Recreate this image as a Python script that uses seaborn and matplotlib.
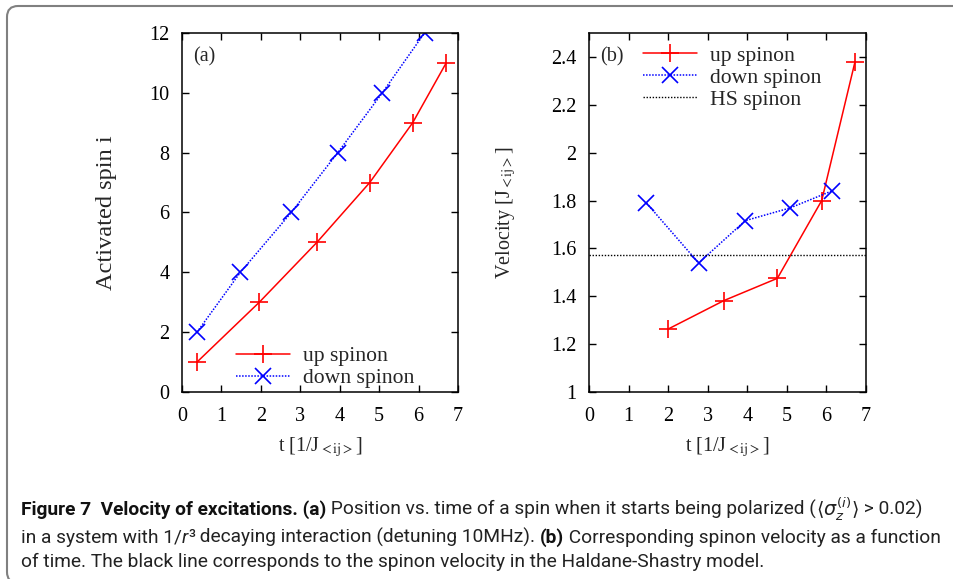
"""Velocity of excitations: spin activation position and spinon velocity vs time."""

import matplotlib.pyplot as plt
import seaborn as sns
from matplotlib.offsetbox import AnchoredOffsetbox, HPacker, TextArea, VPacker
from matplotlib.patches import FancyBboxPatch
from matplotlib.transforms import IdentityTransform

# panel (a): activated spin index vs time
t_up_a = [0.38, 1.96, 3.42, 4.76, 5.85, 6.70]
spin_up = [1, 3, 5, 7, 9, 11]
t_down_a = [0.38, 1.48, 2.77, 3.95, 5.08, 6.15]
spin_down = [2, 4, 6, 8, 10, 12]

# panel (b): spinon velocity vs time
t_up_b = [2.00, 3.41, 4.76, 5.88, 6.72]
vel_up = [1.263, 1.382, 1.475, 1.800, 2.379]
t_down_b = [1.45, 2.77, 3.95, 5.08, 6.15]
vel_down = [1.790, 1.539, 1.716, 1.769, 1.841]
hs_velocity = 1.5708

SERIF = "Liberation Serif"
FS = 14.5
LEG_FS = 15.6
SUB = r"$_{\rm {<}ij{>}}$"

sns.set_theme(style="ticks")
plt.rcParams["font.family"] = [SERIF, "DejaVu Serif"]
plt.rcParams["mathtext.fontset"] = "stix"

fig = plt.figure(figsize=(9.54, 5.79), dpi=100)
ax_a = fig.add_axes([0.1908, 0.3230, 0.2893, 0.6200])
ax_b = fig.add_axes([0.6174, 0.3230, 0.2904, 0.6200])

up_style = dict(color="#ff0000", marker="+", markersize=13, markeredgewidth=1.2,
                markeredgecolor="#ff0000", linewidth=1.1, linestyle="-")
down_style = dict(color="#0000ff", marker="x", markersize=12, markeredgewidth=1.2,
                  markeredgecolor="#0000ff", linewidth=1.1, linestyle=(0, (1, 1)))


def _draw(ax, tu, yu, td, yd):
    sns.lineplot(x=tu, y=yu, ax=ax, estimator=None, sort=False, label="up spinon",
                 **up_style)
    sns.lineplot(x=td, y=yd, ax=ax, estimator=None, sort=False, label="down spinon",
                 **down_style)


_draw(ax_a, t_up_a, spin_up, t_down_a, spin_down)
_draw(ax_b, t_up_b, vel_up, t_down_b, vel_down)
ax_b.axhline(hs_velocity, color="black", linewidth=1.0, linestyle=(0, (1, 1.2)),
             label="HS spinon")

ax_a.set_xlim(0, 7)
ax_a.set_ylim(0, 12)
ax_a.set_yticks(range(0, 13, 2))
ax_b.set_xlim(0, 7)
ax_b.set_ylim(1, 2.5)
ax_b.set_yticks([1, 1.2, 1.4, 1.6, 1.8, 2, 2.2, 2.4])
ax_b.set_yticklabels(["1", "1.2", "1.4", "1.6", "1.8", "2", "2.2", "2.4"])

for ax, tag in ((ax_a, "(a)"), (ax_b, "(b)")):
    ax.set_xticks(range(0, 8))
    ax.tick_params(direction="in", top=True, right=True, length=5, width=1,
                   labelsize=FS, colors="black")
    ax.tick_params(axis="x", pad=11)
    ax.tick_params(axis="y", pad=9)
    for sp in ax.spines.values():
        sp.set_linewidth(1.1)
        sp.set_color("black")
    ax.set_xlabel("t [1/J" + SUB + "]", fontsize=FS)
    ax.xaxis.set_label_coords(0.5, -0.12)
    ax.text(0.04, 0.933, tag, transform=ax.transAxes, fontsize=FS, va="center")

ax_a.set_ylabel("Activated spin i", fontsize=17.6)
ax_a.yaxis.set_label_coords(-0.235, 0.5)
ax_b.set_ylabel("Velocity [J" + SUB + "]", fontsize=FS)
ax_b.yaxis.set_label_coords(-0.255, 0.5)

leg_kw = dict(frameon=False, fontsize=LEG_FS, handlelength=2.5, handletextpad=0.6,
              labelspacing=0.08, borderpad=0, borderaxespad=0, loc="upper left")
ax_a.legend(bbox_to_anchor=(0.195, 0.128), **leg_kw)
ax_b.legend(bbox_to_anchor=(0.195, 0.965), **leg_kw)

# caption below the panels
CAP = ["Roboto", "DejaVu Sans"]
CFS = 13.8
reg = dict(fontsize=CFS, family=CAP, color="#222222")
bold = dict(fontsize=CFS, family=CAP, weight="bold", color="#111111")
math = dict(fontsize=CFS, color="#222222", math_fontfamily="dejavusans")

line1 = HPacker(children=[
    TextArea("Figure 7  Velocity of excitations. (a)", textprops=bold),
    TextArea(" Position vs. time of a spin when it starts being polarized (", textprops=reg),
    TextArea(r"$\langle\sigma_z^{(i)}\rangle$", textprops=math),
    TextArea(" > 0.02)", textprops=reg),
], align="baseline", pad=0, sep=0)
line2 = HPacker(children=[
    TextArea("in a system with 1/", textprops=reg),
    TextArea("r", textprops=dict(reg, style="italic")),
    TextArea("³", textprops=reg),
    TextArea(" decaying interaction (detuning 10MHz). ", textprops=reg),
    TextArea("(b)", textprops=bold),
    TextArea(" Corresponding spinon velocity as a function", textprops=reg),
], align="baseline", pad=0, sep=0)
line3 = TextArea("of time. The black line corresponds to the spinon velocity in the "
                 "Haldane-Shastry model.", textprops=reg)
caption = VPacker(children=[line1, line2, line3], align="left", pad=0, sep=4)
fig.add_artist(AnchoredOffsetbox(loc="upper left", child=caption, pad=0, borderpad=0,
                                 frameon=False, bbox_to_anchor=(21 / 954, 1 - 495 / 579),
                                 bbox_transform=fig.transFigure))

# rounded frame around the figure
fig.patches.append(FancyBboxPatch((7, -4), 1000, 577, transform=IdentityTransform(),
                                  boxstyle="round,pad=0,rounding_size=11",
                                  facecolor="none", edgecolor="#808080", linewidth=1.5))

fig.savefig("out.png", dpi=100)
